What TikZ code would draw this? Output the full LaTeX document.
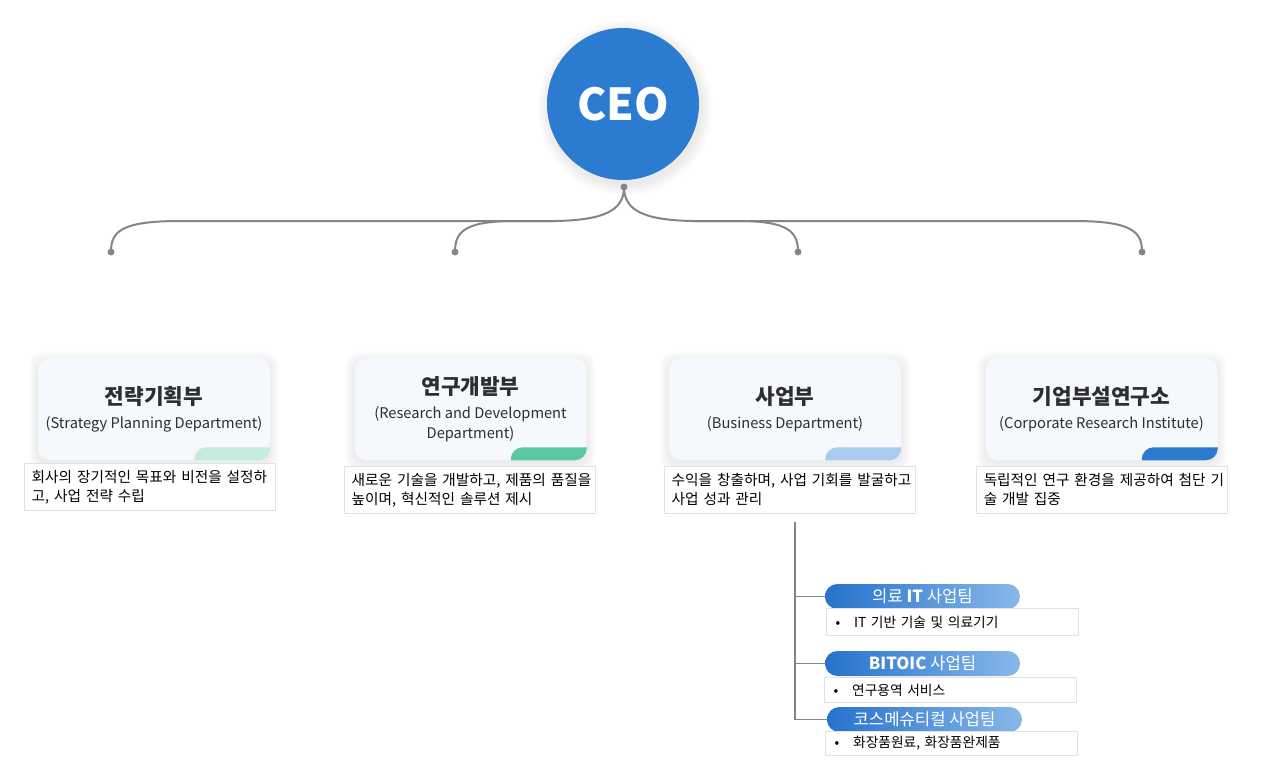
\documentclass[tikz,border=0pt]{standalone}
\usepackage{fontspec}
\setmainfont{Noto Sans CJK KR}
\usetikzlibrary{backgrounds}

\definecolor{ceoblue}{HTML}{2B7BD1}
\definecolor{boxfill}{HTML}{F5F8FC}
\definecolor{linegray}{HTML}{858585}
\definecolor{textdark}{HTML}{2E2E2E}
\definecolor{tabmint}{HTML}{C5EBDD}
\definecolor{tabgreen}{HTML}{5BC8A1}
\definecolor{tablight}{HTML}{A8CBEE}
\definecolor{tabblue}{HTML}{2B7BD1}
\definecolor{pillleft}{HTML}{2672CC}
\definecolor{pillright}{HTML}{88B8EA}
\definecolor{descborder}{HTML}{E2E2E2}

\newcommand{\depttitlefont}{\bfseries\fontsize{16}{19}\selectfont}
% soft shadow behind a department box
\newcommand{\boxshadow}[1]{%
	\foreach \s in {1,...,9}
		\fill[black, opacity=0.009, rounded corners=10pt] ([shift={(-\s,-\s+3)}]#1.north west) rectangle ([shift={(\s,\s+3)}]#1.south east);}

\begin{document}
\begin{tikzpicture}[x=0.75pt, y=-0.75pt,
	dept/.style={rounded corners=9pt, fill=boxfill, minimum width=174pt, minimum height=76.5pt, inner sep=0pt, align=center, text=textdark, font=\fontsize{11}{15}\selectfont},
	desc/.style={draw=descborder, line width=0.6pt, fill=white, anchor=north west, text width=177pt, inner xsep=5.5pt, inner ysep=3pt, minimum height=35.25pt, align=left, text=black, font=\fontsize{11}{14.2}\selectfont},
	pill/.style={rounded corners=9.3pt, left color=pillleft, right color=pillright, minimum width=146.25pt, minimum height=18.75pt, inner sep=0pt, text=white, font=\fontsize{12.5}{14}\selectfont},
	bullets/.style={draw=descborder, line width=0.6pt, fill=white, anchor=north west, minimum width=189pt, minimum height=20.25pt, inner xsep=7pt, text=black, font=\fontsize{10.3}{12}\selectfont, text width=175pt, align=left},
	conn/.style={draw=linegray, line width=1.5pt},
	dot/.style={fill=linegray}]

	\useasboundingbox (0,0) rectangle (1276,781);

	% CEO
	\node[circle, fill=ceoblue, minimum size=114pt, text=white, font=\bfseries\fontsize{33}{38}\selectfont] (ceo) at (623,104) {CEO};

	\coordinate (root) at (624,187);
	\coordinate (jl) at (556,221);
	\coordinate (jr) at (692,221);
	\coordinate (e1) at (111,252);
	\coordinate (e2) at (455,252);
	\coordinate (e3) at (798,252);
	\coordinate (e4) at (1142,252);

	\draw[conn] (root) .. controls (624,210) and (605,220) .. (jl) -- (180,221) .. controls (120,221) and (111,232) .. (e1);
	\draw[conn] (jl) -- (515,221) .. controls (464,221) and (455,232) .. (e2);
	\draw[conn] (root) .. controls (624,210) and (643,220) .. (jr) -- (1073,221) .. controls (1133,221) and (1142,232) .. (e4);
	\draw[conn] (jr) -- (738,221) .. controls (789,221) and (798,232) .. (e3);
	\foreach \p in {root,e1,e2,e3,e4}
		\fill[dot] (\p) circle (2.6pt);

	% departments
	\node[dept] (d1) at (154,409) {{\depttitlefont 전략기획부}\\[3pt](Strategy Planning Department)};
	\node[dept] (d2) at (470.5,409) {{\depttitlefont 연구개발부}\\[3pt](Research and Development\\Department)};
	\node[dept] (d3) at (785,409) {{\depttitlefont 사업부}\\[3pt](Business Department)};
	\node[dept] (d4) at (1101.5,409) {{\depttitlefont 기업부설연구소}\\[3pt](Corporate Research Institute)};

	% colour tabs
	\begin{scope}
		\clip[rounded corners=9pt] (d1.south west) rectangle (d1.north east);
		\fill[tabmint, rounded corners=9pt] ([shift={(-76,-13)}]d1.south east) rectangle ([shift={(20,20)}]d1.south east);
	\end{scope}
	\begin{scope}
		\clip[rounded corners=9pt] (d2.south west) rectangle (d2.north east);
		\fill[tabgreen, rounded corners=9pt] ([shift={(-76,-13)}]d2.south east) rectangle ([shift={(20,20)}]d2.south east);
	\end{scope}
	\begin{scope}
		\clip[rounded corners=9pt] (d3.south west) rectangle (d3.north east);
		\fill[tablight, rounded corners=9pt] ([shift={(-76,-13)}]d3.south east) rectangle ([shift={(20,20)}]d3.south east);
	\end{scope}
	\begin{scope}
		\clip[rounded corners=9pt] (d4.south west) rectangle (d4.north east);
		\fill[tabblue, rounded corners=9pt] ([shift={(-76,-13)}]d4.south east) rectangle ([shift={(20,20)}]d4.south east);
	\end{scope}

	% shadows
	\begin{scope}[on background layer]
		\fill[white] (0,0) rectangle (1276,781);
		\foreach \s in {1,...,10}
			\fill[black, opacity=0.008] ([shift={(2,4)}]ceo.center) circle ({57pt+\s*0.9pt});
		\boxshadow{d1}
		\boxshadow{d2}
		\boxshadow{d3}
		\boxshadow{d4}
	\end{scope}

	% descriptions
	\node[desc] (s1) at (24,463) {\mbox{회사의 장기적인 목표와 비전을 설정하}\\\mbox{고, 사업 전략 수립}};
	\node[desc] (s2) at (344,466) {\mbox{새로운 기술을 개발하고, 제품의 품질을}\\\mbox{높이며, 혁신적인 솔루션 제시}};
	\node[desc] (s3) at (664,466) {\mbox{수익을 창출하며, 사업 기회를 발굴하고}\\\mbox{사업 성과 관리}};
	\node[desc] (s4) at (976,466) {\mbox{독립적인 연구 환경을 제공하여 첨단 기}\\\mbox{술 개발 집중}};

	% business teams
	\coordinate (bizline) at (795,522);
	\node[pill] (t1) at (922.5,596.5) {의료 \textbf{IT} 사업팀};
	\node[pill] (t2) at (922.5,663.5) {\textbf{BITOIC} 사업팀};
	\node[pill] (t3) at (924.5,719.5) {코스메슈티컬 사업팀};

	\draw[conn, line width=1.2pt] (bizline) |- (t3.west);
	\draw[conn, line width=1.2pt] (bizline |- t1.west) -- (t1.west);
	\draw[conn, line width=1.2pt] (bizline |- t2.west) -- (t2.west);

	\node[bullets] (b1) at (826,608) {•\quad IT 기반 기술 및 의료기기};
	\node[bullets, minimum height=18.75pt] (b2) at (824,677) {•\quad 연구용역 서비스};
	\node[bullets, minimum height=18pt] (b3) at (825,731) {•\quad 화장품원료, 화장품완제품};

\end{tikzpicture}
\end{document}
